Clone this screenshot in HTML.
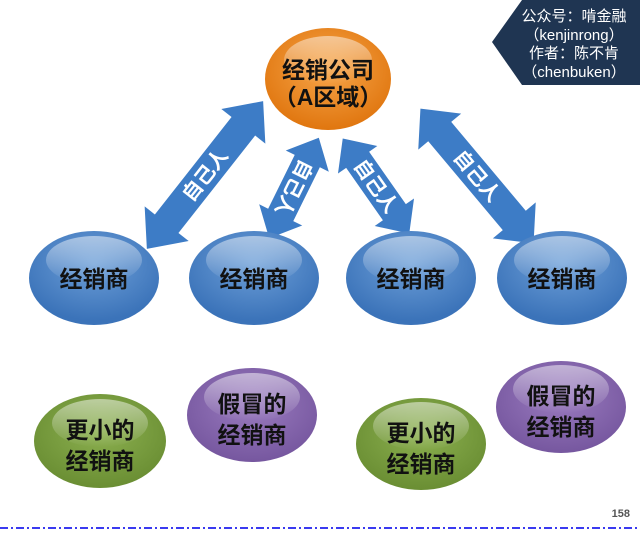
<!DOCTYPE html>
<html><head><meta charset="utf-8"><style>
html,body{margin:0;padding:0;background:#fff;}
svg{display:block;}
text{font-family:"Liberation Sans","Noto Sans CJK SC",sans-serif;font-weight:bold;}
</style></head><body>
<svg width="640" height="533" viewBox="0 0 640 533" xmlns="http://www.w3.org/2000/svg">
<defs>
<radialGradient id="gb" cx="50%" cy="35%" r="60%"><stop offset="0" stop-color="#6d9fd8"/><stop offset="1" stop-color="#3b73b9"/></radialGradient>
<radialGradient id="go" cx="50%" cy="40%" r="60%"><stop offset="0" stop-color="#f7a64a"/><stop offset="1" stop-color="#e0760f"/></radialGradient>
<radialGradient id="gg" cx="50%" cy="40%" r="60%"><stop offset="0" stop-color="#8cb050"/><stop offset="1" stop-color="#6a8e33"/></radialGradient>
<radialGradient id="gp" cx="50%" cy="40%" r="60%"><stop offset="0" stop-color="#9a7bbf"/><stop offset="1" stop-color="#76579f"/></radialGradient>
<linearGradient id="hl" x1="0" y1="0" x2="0" y2="1"><stop offset="0" stop-color="#fff" stop-opacity="0.5"/><stop offset="1" stop-color="#fff" stop-opacity="0"/></linearGradient>
</defs>
<!-- badge -->
<polygon points="640,0 522,0 492,42 522,85 640,85" fill="#1f3552"/>
<g fill="#fff" font-size="15" text-anchor="middle">
<text x="574" y="21" style="font-weight:normal">公众号：啃金融</text>
<text x="574" y="40" style="font-weight:normal">（kenjinrong）</text>
<text x="574" y="58" style="font-weight:normal">作者：陈不肯</text>
<text x="574" y="77" style="font-weight:normal">（chenbuken）</text>
</g>
<!-- arrows -->
<g fill="#3d7cc6">
<g transform="translate(205,175) rotate(-51.8)"><polygon points="-94,0 -62,-28 -62,-15 62,-15 62,-28 94,0 62,28 62,15 -62,15 -62,28"/></g>
<g transform="translate(294,188) rotate(-63.7)"><polygon points="-56,0 -30,-24 -30,-14 30,-14 30,-24 56,0 30,24 30,14 -30,14 -30,24"/></g>
<g transform="translate(376,186) rotate(55)"><polygon points="-58,0 -32,-24 -32,-14 32,-14 32,-24 58,0 32,24 32,14 -32,14 -32,24"/></g>
<g transform="translate(477,176) rotate(50)"><polygon points="-88,0 -58,-28 -58,-15 58,-15 58,-28 88,0 58,28 58,15 -58,15 -58,28"/></g>
</g>
<g fill="#fff" font-size="20" text-anchor="middle">
<text transform="translate(205,175) rotate(-51.8)" y="7">自己人</text>
<text transform="translate(294,188) rotate(116.3)" y="7">自己人</text>
<text transform="translate(376,186) rotate(55)" y="7">自己人</text>
<text transform="translate(477,176) rotate(50)" y="7">自己人</text>
</g>
<!-- orange -->
<ellipse cx="328" cy="79" rx="63" ry="51" fill="url(#go)"/>
<ellipse cx="328" cy="60" rx="44" ry="24" fill="url(#hl)"/>
<g font-size="23" text-anchor="middle" fill="#111">
<text x="328" y="78">经销公司</text>
<text x="328" y="105">（A区域）</text>
</g>
<!-- blue -->
<g>
<ellipse cx="94" cy="278" rx="65" ry="47" fill="url(#gb)"/>
<ellipse cx="254" cy="278" rx="65" ry="47" fill="url(#gb)"/>
<ellipse cx="411" cy="278" rx="65" ry="47" fill="url(#gb)"/>
<ellipse cx="562" cy="278" rx="65" ry="47" fill="url(#gb)"/>
<ellipse cx="94" cy="260" rx="48" ry="24" fill="url(#hl)"/>
<ellipse cx="254" cy="260" rx="48" ry="24" fill="url(#hl)"/>
<ellipse cx="411" cy="260" rx="48" ry="24" fill="url(#hl)"/>
<ellipse cx="562" cy="260" rx="48" ry="24" fill="url(#hl)"/>
</g>
<g font-size="23" text-anchor="middle" fill="#111">
<text x="94" y="287">经销商</text><text x="254" y="287">经销商</text>
<text x="411" y="287">经销商</text><text x="562" y="287">经销商</text>
</g>
<!-- bottom -->
<ellipse cx="100" cy="441" rx="66" ry="47" fill="url(#gg)"/>
<ellipse cx="252" cy="415" rx="65" ry="47" fill="url(#gp)"/>
<ellipse cx="421" cy="444" rx="65" ry="46" fill="url(#gg)"/>
<ellipse cx="561" cy="407" rx="65" ry="46" fill="url(#gp)"/>
<ellipse cx="100" cy="423" rx="48" ry="24" fill="url(#hl)"/>
<ellipse cx="252" cy="397" rx="48" ry="24" fill="url(#hl)"/>
<ellipse cx="421" cy="426" rx="48" ry="24" fill="url(#hl)"/>
<ellipse cx="561" cy="389" rx="48" ry="24" fill="url(#hl)"/>
<g font-size="23" text-anchor="middle" fill="#111">
<text x="100" y="438">更小的</text><text x="100" y="469">经销商</text>
<text x="252" y="412">假冒的</text><text x="252" y="443">经销商</text>
<text x="421" y="441">更小的</text><text x="421" y="472">经销商</text>
<text x="561" y="404">假冒的</text><text x="561" y="435">经销商</text>
</g>
<text x="630" y="517" font-size="11" fill="#555" text-anchor="end">158</text>
<line x1="0" y1="528" x2="640" y2="528" stroke="#3a3af0" stroke-width="2" stroke-dasharray="8,3,2,3"/>
</svg>
</body></html>
